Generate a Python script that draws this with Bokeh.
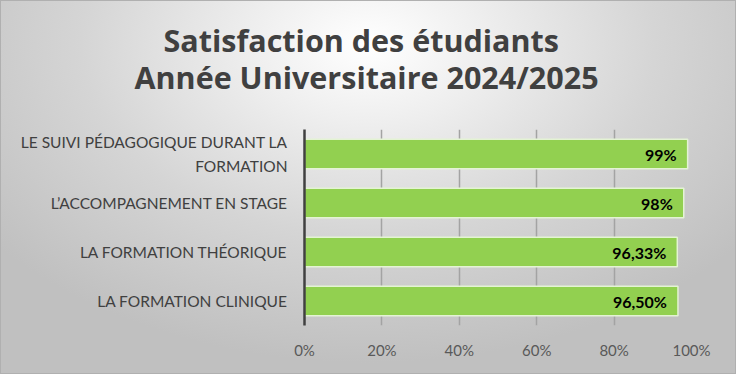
from bokeh.plotting import figure
from bokeh.models import ColumnDataSource, PrintfTickFormatter, FixedTicker, Range1d, Title
from bokeh.core.properties import value
from bokeh.embed import file_html
from bokeh.resources import INLINE

# ---- data ----
categories = [
    "LA FORMATION CLINIQUE",
    "LA FORMATION THÉORIQUE",
    "L’ACCOMPAGNEMENT EN STAGE",
    "LE SUIVI PÉDAGOGIQUE DURANT LA\nFORMATION",
]
satisfaction = [96.50, 96.33, 98, 99]
value_labels = ["96,50%", "96,33%", "98%", "99%"]
x_ticks = [0, 20, 40, 60, 80, 100]
title_line1 = "Satisfaction des étudiants"
title_line2 = "Année Universitaire 2024/2025"

FONT = "Lato"
TITLE_FONT = "Open Sans"

src = ColumnDataSource(dict(cat=categories, val=satisfaction, lab=value_labels))

p = figure(
    width=736, height=374,
    y_range=categories,
    x_range=Range1d(0, 100),
    output_backend="svg",
    toolbar_location=None,
    title=None,
    min_border_left=304, min_border_right=45,
    min_border_top=129, min_border_bottom=49,
)
p.background_fill_alpha = 0
p.border_fill_alpha = 0
p.outline_line_color = None
p.styles = {
    "background": "radial-gradient(ellipse 65% 85% at 50% 12%, #ffffff 0%, #eeeeee 25%, #d5d5d5 60%, #c0c0c0 100%)",
    "box-shadow": "inset 0 0 0 1px #b0b0b0",
}

p.hbar(y="cat", right="val", left=0, height=0.6, source=src,
       fill_color="#92D050", line_color="#e4f3d4", line_width=1.5)

p.text(x="val", y="cat", text="lab", source=src,
       x_offset=-11, text_align="right", text_baseline="middle",
       text_font=value(FONT), text_font_style="bold", text_font_size="16px",
       text_color="#000000")

# grid
p.ygrid.grid_line_color = None
p.xgrid.ticker = FixedTicker(ticks=x_ticks)
p.xgrid.grid_line_color = "#a3a3a3"
p.xgrid.grid_line_width = 1.5
p.xgrid.level = "underlay"

# x axis
p.xaxis.ticker = FixedTicker(ticks=x_ticks)
p.xaxis.formatter = PrintfTickFormatter(format="%d%%")
p.xaxis.axis_line_color = None
p.xaxis.major_tick_line_color = None
p.xaxis.minor_tick_line_color = None
p.xaxis.major_tick_out = 0
p.xaxis.major_tick_in = 0
p.xaxis.major_label_standoff = 15
p.xaxis.major_label_text_font = FONT
p.xaxis.major_label_text_font_size = "15px"
p.xaxis.major_label_text_color = "#595959"

# y axis
p.yaxis.axis_line_color = "#404040"
p.yaxis.axis_line_width = 2.5
p.yaxis.major_tick_line_color = None
p.yaxis.minor_tick_line_color = None
p.yaxis.major_tick_out = 0
p.yaxis.major_tick_in = 0
p.yaxis.major_label_standoff = 17
p.yaxis.major_label_text_font = FONT
p.yaxis.major_label_text_font_size = "15.5px"
p.yaxis.major_label_text_line_height = 1.38
p.yaxis.major_label_text_color = "#404040"

# two-line title (second line added first: it sits nearest the plot;
# its trailing empty line keeps the gap above the plot area)
t2 = Title(text=title_line2 + "\n", align="left", offset=-170, standoff=0,
           text_font=TITLE_FONT, text_font_style="bold", text_font_size="30.5px",
           text_line_height=0.75, text_color="#404040")
t1 = Title(text=title_line1, align="left", offset=-141, standoff=-14,
           text_font=TITLE_FONT, text_font_style="bold", text_font_size="30.5px",
           text_color="#404040")
p.add_layout(t2, "above")
p.add_layout(t1, "above")

open("out.html", "w").write(file_html(p, INLINE))
